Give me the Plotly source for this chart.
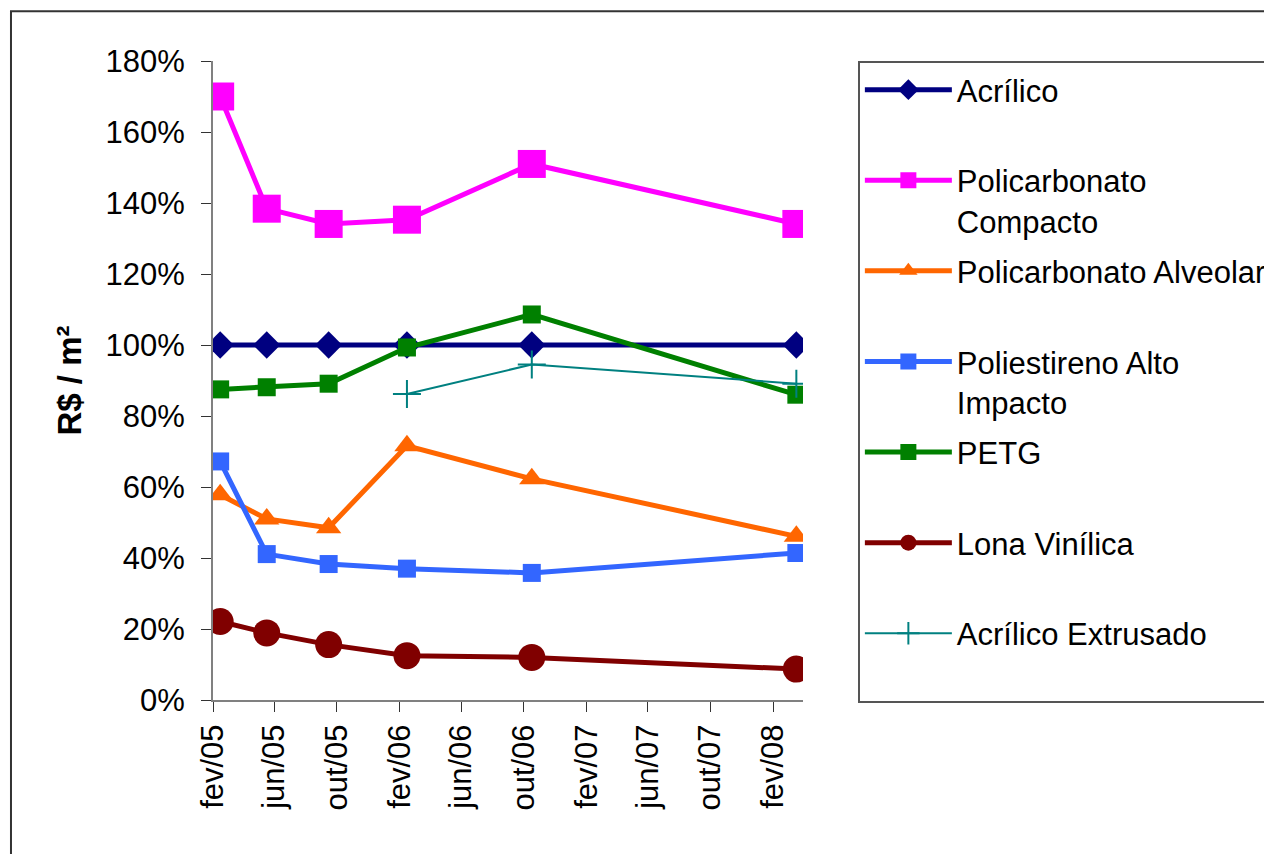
import plotly.graph_objects as go

dates = ["2005-02-15", "2005-05-17", "2005-09-15", "2006-02-15", "2006-10-17", "2008-03-17"]
dates_extrusado = ["2006-02-15", "2006-10-17", "2008-03-17"]

acrilico = [1.00, 1.00, 1.00, 1.00, 1.00, 1.00]
pc_compacto = [1.70, 1.384, 1.341, 1.353, 1.510, 1.341]
pc_alveolar = [0.578, 0.510, 0.485, 0.716, 0.623, 0.461]
poliestireno = [0.672, 0.411, 0.383, 0.370, 0.358, 0.414]
petg = [0.875, 0.881, 0.891, 0.993, 1.086, 0.860]
lona = [0.221, 0.189, 0.156, 0.125, 0.120, 0.087]
acr_extrusado = [0.862, 0.945, 0.891]

tick_dates = ["2005-02-01", "2005-06-01", "2005-10-01", "2006-02-01", "2006-06-01",
              "2006-10-01", "2007-02-01", "2007-06-01", "2007-10-01", "2008-02-01"]
tick_labels = ["fev/05", "jun/05", "out/05", "fev/06", "jun/06",
               "out/06", "fev/07", "jun/07", "out/07", "fev/08"]

FONT = "Arial, Liberation Sans, sans-serif"
FS = 31

series = [
    ("Acrílico<br> ", dates, acrilico, "#000080", "diamond", 21, 5),
    ("Policarbonato<br>Compacto", dates, pc_compacto, "#FF00FF", "square", 28, 5),
    ("Policarbonato Alveolar<br> ", dates, pc_alveolar, "#FF6600", "triangle-up", 22, 5),
    ("Poliestireno Alto<br>Impacto", dates, poliestireno, "#3366FF", "square", 18, 5),
    ("PETG<br> ", dates, petg, "#008000", "square", 18, 5),
    ("Lona Vinílica<br> ", dates, lona, "#800000", "circle", 27, 5),
]

fig = go.Figure()
for i, (name, xs, ys, color, sym, size, lw) in enumerate(series):
    fig.add_trace(go.Scatter(
        x=xs, y=ys, name=name, mode="lines+markers",
        line=dict(color=color, width=lw),
        marker=dict(symbol=sym, size=size, color=color),
        legendgroup=f"g{i}",
    ))
fig.add_trace(go.Scatter(
    x=dates_extrusado, y=acr_extrusado, name="Acrílico Extrusado<br> ",
    mode="lines+markers",
    line=dict(color="#008080", width=2),
    marker=dict(symbol="cross-thin-open", size=20, color="#008080",
                line=dict(color="#008080", width=2)),
    legendgroup="g7",
))

fig.update_layout(
    width=1272, height=854,
    margin=dict(l=205, r=477, t=53, b=162, autoexpand=False),
    paper_bgcolor="white", plot_bgcolor="white",
    font=dict(family=FONT, size=FS, color="black"),
    showlegend=True,
    legend=dict(
        x=1.093, y=1.0, xanchor="left", yanchor="top",
        bordercolor="#555555", borderwidth=2, bgcolor="white",
        font=dict(family=FONT, size=31, color="black"),
        tracegroupgap=7, valign="top",
        itemwidth=87, maxheight=900,
    ),
    xaxis=dict(
        type="date", range=["2005-02-01", "2008-03-30"],
        tickmode="array", tickvals=tick_dates, ticktext=tick_labels,
        tickangle=-90, ticks="outside", ticklen=10, tickcolor="#333333",
        showline=True, linecolor="#808080", linewidth=2,
        showgrid=False, zeroline=False, automargin=False,
        tickfont=dict(family=FONT, size=FS, color="black"),
    ),
    yaxis=dict(
        range=[0, 1.8], dtick=0.2, tick0=0, tickformat=".0%",
        ticks="outside", ticklen=10, tickcolor="#333333",
        showline=True, linecolor="#808080", linewidth=2,
        showgrid=False, zeroline=False, ticklabelstandoff=10, automargin=False,
        tickfont=dict(family=FONT, size=FS, color="black"),
        title=dict(text="<b>R$ / m²</b>", font=dict(family=FONT, size=33, color="black"),
                   standoff=14),
    ),
    shapes=[dict(type="rect", xref="paper", yref="paper",
                 x0=-0.3424, x1=2.5, y0=-1.0, y1=1.078,
                 line=dict(color="#333333", width=2), layer="below")],
)

fig.write_html("out.html")
